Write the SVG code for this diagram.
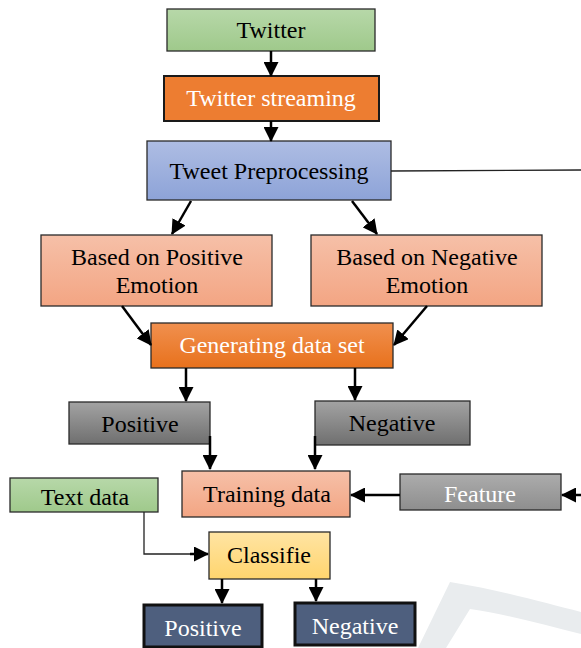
<svg xmlns="http://www.w3.org/2000/svg" width="581" height="648" viewBox="0 0 581 648" font-family="Liberation Serif, Tinos, DejaVu Serif, serif">
<defs>
<linearGradient id="gGreen" x1="0" y1="0" x2="0" y2="1"><stop offset="0" stop-color="#b7d8a9"/><stop offset="1" stop-color="#9fc98b"/></linearGradient>
<linearGradient id="gBlue" x1="0" y1="0" x2="0" y2="1"><stop offset="0" stop-color="#aebde3"/><stop offset="1" stop-color="#8da3d8"/></linearGradient>
<linearGradient id="gSalmon" x1="0" y1="0" x2="0" y2="1"><stop offset="0" stop-color="#f6c0a8"/><stop offset="1" stop-color="#f3a583"/></linearGradient>
<linearGradient id="gOrange" x1="0" y1="0" x2="0" y2="1"><stop offset="0" stop-color="#f0904f"/><stop offset="1" stop-color="#e8711c"/></linearGradient>
<linearGradient id="gGray" x1="0" y1="0" x2="0" y2="1"><stop offset="0" stop-color="#a3a3a3"/><stop offset="1" stop-color="#6f6f6f"/></linearGradient>
<linearGradient id="gGrayL" x1="0" y1="0" x2="0" y2="1"><stop offset="0" stop-color="#acacac"/><stop offset="1" stop-color="#8e8e8e"/></linearGradient>
<linearGradient id="gYellow" x1="0" y1="0" x2="0" y2="1"><stop offset="0" stop-color="#ffe4a3"/><stop offset="1" stop-color="#ffd56e"/></linearGradient>
<marker id="ah" markerUnits="userSpaceOnUse" markerWidth="15" markerHeight="15" viewBox="0 0 15 15" refX="14" refY="7.5" orient="auto"><path d="M0,0 L15,7.5 L0,15 Z" fill="#000"/></marker>
</defs>
<style>
text{font-family:'Liberation Serif','Tinos','DejaVu Serif',serif;font-size:24px;text-anchor:middle;fill:#000}
.w{fill:#fff}
.box{stroke:#2a2a2a;stroke-width:1.3}
.navy{fill:#4e5f7e;stroke:#111;stroke-width:3}
.c{fill:none;stroke:#000;stroke-width:2.5}
.thin{fill:none;stroke:#222;stroke-width:1.3}
</style>
<path d="M418,648 L450,582 C500,590 545,603 581,612 L581,634 C545,625 505,614 470,609 L446,648 Z" fill="#e9ecee"/>
<g id="twitter"><rect class="box" x="167" y="9" width="208" height="42" fill="url(#gGreen)"/><text x="271" y="38">Twitter</text></g>
<g id="streaming"><rect x="164" y="76" width="215" height="45" fill="#ed7d31" stroke="#1a1a1a" stroke-width="2"/><text class="w" x="271" y="106">Twitter streaming</text></g>
<g id="preprocessing"><rect class="box" x="147" y="141" width="244" height="59" fill="url(#gBlue)"/><text x="269" y="179">Tweet Preprocessing</text></g>
<g id="basedPositive"><rect class="box" x="41" y="235" width="231" height="71" fill="url(#gSalmon)"/><text x="157" y="265">Based on Positive</text><text x="157" y="293">Emotion</text></g>
<g id="basedNegative"><rect class="box" x="311" y="235" width="231" height="71" fill="url(#gSalmon)"/><text x="427" y="265">Based on Negative</text><text x="427" y="293">Emotion</text></g>
<g id="generating"><rect class="box" x="151" y="323" width="242" height="45" fill="url(#gOrange)"/><text class="w" x="272" y="353">Generating data set</text></g>
<g id="positiveSet"><rect class="box" x="69" y="402" width="141" height="42" fill="url(#gGray)"/><text x="140" y="432">Positive</text></g>
<g id="negativeSet"><rect class="box" x="315" y="401" width="155" height="44" fill="url(#gGray)"/><text x="392" y="431">Negative</text></g>
<g id="training"><rect class="box" x="182" y="471" width="168" height="46" fill="url(#gSalmon)"/><text x="267" y="502">Training data</text></g>
<g id="feature"><rect class="box" x="400" y="474" width="161" height="36" fill="url(#gGrayL)"/><text class="w" x="480" y="502">Feature</text></g>
<g id="textData"><rect class="box" x="10" y="478" width="148" height="34" fill="url(#gGreen)"/><text x="85" y="505">Text data</text></g>
<g id="classifie"><rect class="box" x="209" y="532" width="121" height="47" fill="url(#gYellow)"/><text x="269" y="563">Classifie</text></g>
<g id="positiveOut"><rect class="navy" x="144" y="605" width="118" height="42"/><text class="w" x="203" y="636">Positive</text></g>
<g id="negativeOut"><rect class="navy" x="295" y="603" width="120" height="42"/><text class="w" x="355" y="634">Negative</text></g>
<g id="connectors">
<line class="c" x1="271" y1="51" x2="271" y2="76" marker-end="url(#ah)"/>
<line class="c" x1="271" y1="121" x2="271" y2="141" marker-end="url(#ah)"/>
<line class="thin" x1="391" y1="171" x2="581" y2="170"/>
<line class="c" x1="191" y1="201" x2="172" y2="234" marker-end="url(#ah)"/>
<line class="c" x1="352" y1="201" x2="377" y2="234" marker-end="url(#ah)"/>
<line class="c" x1="122" y1="306" x2="151" y2="345" marker-end="url(#ah)"/>
<line class="c" x1="427" y1="306" x2="394" y2="345" marker-end="url(#ah)"/>
<line class="c" x1="186" y1="368" x2="186" y2="401" marker-end="url(#ah)"/>
<line class="c" x1="355" y1="368" x2="355" y2="400" marker-end="url(#ah)"/>
<line class="c" x1="210" y1="436" x2="210" y2="469" marker-end="url(#ah)"/>
<line class="c" x1="315" y1="436" x2="315" y2="469" marker-end="url(#ah)"/>
<line class="c" x1="400" y1="495" x2="351" y2="495" marker-end="url(#ah)"/>
<line class="c" x1="581" y1="495" x2="562" y2="495" marker-end="url(#ah)"/>
<polyline class="thin" points="144,512 144,554 195,554"/>
<line class="c" x1="190" y1="554" x2="208" y2="554" marker-end="url(#ah)"/>
<line class="c" x1="222" y1="579" x2="222" y2="603" marker-end="url(#ah)"/>
<line class="c" x1="316" y1="579" x2="316" y2="601" marker-end="url(#ah)"/>
</g>
</svg>
